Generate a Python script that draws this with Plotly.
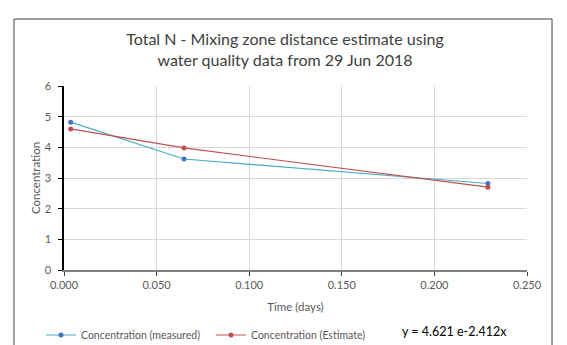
import plotly.graph_objects as go

time_days = [0.0036, 0.0648, 0.2289]
conc_measured = [4.82, 3.62, 2.82]
conc_estimate = [4.60, 3.98, 2.70]

x_ticks = [0, 0.05, 0.10, 0.15, 0.20, 0.25]
x_tick_labels = ["0.000", "0.050", "0.100", "0.150", "0.200", "0.250"]
y_ticks = [0, 1, 2, 3, 4, 5, 6]

FONT = "Lato, 'Open Sans', sans-serif"
GREY = "#595959"

L, R, T, B = 56, 48, 78, 83
PW = 567 - L - R
PH = 345 - T - B


def px_x(px):
    return (px - L) / PW


def px_y(py):
    return (345 - B - py) / PH


fig = go.Figure()
fig.add_trace(go.Scatter(
    x=time_days, y=conc_measured, mode="lines+markers",
    name="Concentration (measured)",
    line=dict(color="#4bacc6", width=1.2),
    marker=dict(color="#4472c4", size=5),
    legend="legend",
))
fig.add_trace(go.Scatter(
    x=time_days, y=conc_estimate, mode="lines+markers",
    name="Concentration (Estimate)",
    line=dict(color="#c0504d", width=1.2),
    marker=dict(color="#c0504d", size=5),
    legend="legend2",
))

legend_common = dict(
    orientation="h", xanchor="left", yanchor="middle",
    font=dict(family=FONT, size=10.5, color=GREY), bgcolor="rgba(0,0,0,0)",
    itemwidth=30,
)

fig.update_layout(
    width=567, height=345,
    margin=dict(l=L, r=R, t=T, b=B, autoexpand=False),
    paper_bgcolor="white", plot_bgcolor="white",
    font=dict(family=FONT, color=GREY, size=10),
    title=dict(
        text="Total N - Mixing zone distance estimate using<br>water quality data from 29 Jun 2018",
        x=277 / 567, xanchor="center", y=1 - 37 / 345, yanchor="top",
        font=dict(family=FONT, size=16, color="#404040"),
    ),
    xaxis=dict(
        range=[0, 0.25], tickvals=x_ticks, ticktext=x_tick_labels,
        showgrid=True, gridcolor="#d9d9d9", gridwidth=1,
        showline=True, linecolor="#7f7f7f", linewidth=1.5,
        ticks="outside", ticklen=4, tickcolor="#404040",
        zeroline=False, automargin=False,
        title=dict(text="Time (days)", font=dict(size=11.5, color=GREY), standoff=13),
        tickfont=dict(size=11, color=GREY),
    ),
    yaxis=dict(
        range=[0, 6], tickvals=y_ticks,
        showgrid=True, gridcolor="#d9d9d9", gridwidth=1,
        showline=True, linecolor="black", linewidth=1.5,
        ticks="outside", ticklen=4, tickcolor="black",
        zeroline=False, automargin=False,
        ticklabelstandoff=5,
        title=dict(text="Concentration", font=dict(size=11.5, color=GREY), standoff=2),
        tickfont=dict(size=11, color=GREY),
    ),
    legend=dict(x=px_x(33), y=px_y(327), **legend_common),
    legend2=dict(x=px_x(203), y=px_y(327), **legend_common),
    showlegend=True,
)

fig.add_annotation(
    text="y = 4.621 e-2.412x", xref="paper", yref="paper",
    x=px_x(446), y=px_y(323), xanchor="center", yanchor="middle",
    showarrow=False, font=dict(family=FONT, size=12.5, color="black"),
)

fig.add_shape(
    type="rect", xref="paper", yref="paper",
    x0=px_x(6), x1=px_x(544), y0=px_y(360), y1=px_y(11),
    line=dict(color="#404040", width=1), fillcolor="rgba(0,0,0,0)", layer="below",
)

fig.write_html("out.html")
